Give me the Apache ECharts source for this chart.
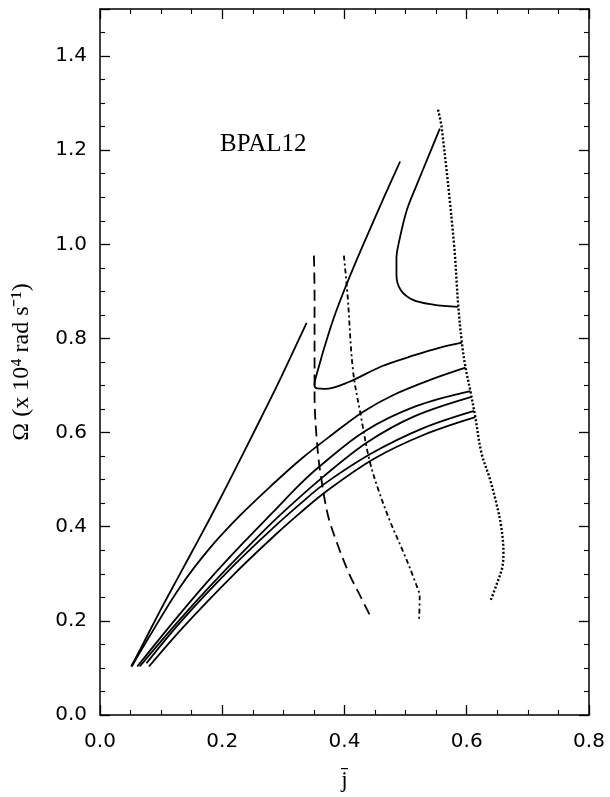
<!DOCTYPE html>
<html>
<head>
<meta charset="utf-8">
<script src="https://cdn.jsdelivr.net/npm/echarts@6/dist/echarts.min.js"></script>
<style>
  html, body { margin: 0; padding: 0; background: #fff; }
  #chart { width: 610px; height: 797px; }
</style>
</head>
<body>
<div id="chart"></div>
<script>
// x: j-bar, y: Omega (x 10^4 rad/s)
const xTicks = [0, 0.2, 0.4, 0.6, 0.8]
const yTicks = [0, 0.2, 0.4, 0.6, 0.8, 1.0, 1.2, 1.4]

// steep solid line at the left
const lineL = [[0.051,0.103],[0.066,0.140],[0.097,0.218],[0.128,0.293],[0.161,0.372],[0.190,0.443],[0.218,0.514],[0.263,0.630],[0.296,0.717],[0.338,0.833]]
// family of solid curves ending on the dotted line
const lineC = [[0.052,0.103],[0.080,0.165],[0.130,0.270],[0.180,0.355],[0.230,0.425],[0.280,0.487],[0.330,0.545],[0.380,0.596],[0.430,0.644],[0.480,0.680],[0.540,0.712],[0.598,0.738]]
const lineD = [[0.061,0.103],[0.122,0.201],[0.177,0.285],[0.233,0.364],[0.283,0.431],[0.327,0.490],[0.360,0.529],[0.432,0.602],[0.515,0.655],[0.606,0.688]]
const lineE = [[0.065,0.103],[0.124,0.193],[0.179,0.272],[0.235,0.348],[0.294,0.424],[0.366,0.507],[0.438,0.580],[0.515,0.635],[0.608,0.676]]
const lineF = [[0.076,0.110],[0.132,0.198],[0.216,0.314],[0.282,0.396],[0.327,0.448],[0.366,0.490],[0.443,0.555],[0.526,0.608],[0.612,0.646]]
const lineG = [[0.080,0.103],[0.137,0.188],[0.220,0.300],[0.287,0.383],[0.327,0.429],[0.371,0.476],[0.449,0.545],[0.531,0.596],[0.614,0.633]]
// curve that turns back at the dashed line
const lineB = [[0.491,1.176],[0.466,1.104],[0.443,1.036],[0.421,0.970],[0.400,0.904],[0.382,0.842],[0.368,0.785],[0.358,0.740],[0.352,0.712],[0.351,0.700],[0.355,0.694],[0.368,0.693],[0.406,0.707],[0.461,0.741],[0.516,0.765],[0.555,0.780],[0.592,0.791]]
// upper hook
const lineA = [[0.556,1.246],[0.538,1.189],[0.519,1.129],[0.502,1.073],[0.490,1.010],[0.485,0.970],[0.485,0.935],[0.492,0.903],[0.512,0.882],[0.545,0.872],[0.586,0.867]]
// boundaries
const dashed = [[0.350,0.976],[0.351,0.892],[0.351,0.682],[0.356,0.564],[0.363,0.494],[0.373,0.424],[0.387,0.368],[0.408,0.299],[0.427,0.250],[0.444,0.205]]
const dashDot = [[0.399,0.976],[0.405,0.892],[0.414,0.731],[0.427,0.634],[0.440,0.546],[0.454,0.484],[0.475,0.410],[0.496,0.347],[0.515,0.285],[0.523,0.250],[0.522,0.201]]
const dotted = [[0.553,1.286],[0.559,1.248],[0.579,1.003],[0.586,0.871],[0.592,0.791],[0.598,0.738],[0.606,0.688],[0.614,0.633],[0.624,0.557],[0.638,0.501],[0.648,0.452],[0.656,0.403],[0.660,0.347],[0.658,0.313],[0.649,0.278],[0.639,0.243]]

const chart = echarts.init(document.getElementById('chart'))

const tickFont = 'DejaVu Sans'
const serif = 'Liberation Serif'

function xAx(pos, show) {
  return {
    type: 'value', min: xTicks[0], max: xTicks[xTicks.length - 1], interval: 0.2,
    position: pos,
    axisLine: { onZero: false, lineStyle: { color: '#000', width: 1.5 } },
    axisTick: { inside: true, length: 10, lineStyle: { color: '#000', width: 1.3 } },
    minorTick: { show: true, splitNumber: 4, length: 5, lineStyle: { color: '#000', width: 1.1 } },
    splitLine: { show: false },
    axisLabel: { show: show, margin: 17, color: '#000', fontFamily: tickFont, fontSize: 20, formatter: v => v.toFixed(1) },
    name: show ? 'j\u0304' : '', nameLocation: 'middle', nameGap: 54,
    nameTextStyle: { color: '#000', fontFamily: serif, fontSize: 23 }
  }
}
function yAx(pos, show) {
  return {
    type: 'value', min: yTicks[0], max: 1.5, interval: 0.2,
    position: pos,
    axisLine: { onZero: false, lineStyle: { color: '#000', width: 1.5 } },
    axisTick: { inside: true, length: 10, lineStyle: { color: '#000', width: 1.3 } },
    minorTick: { show: true, splitNumber: 4, length: 5, lineStyle: { color: '#000', width: 1.1 } },
    splitLine: { show: false },
    axisLabel: { show: show, margin: 13, color: '#000', fontFamily: tickFont, fontSize: 20, showMaxLabel: false, formatter: v => v.toFixed(1) },
    name: show ? '\u03A9 (x 10\u2074 rad s\u207B\u00B9)' : '', nameLocation: 'middle', nameGap: 66,
    nameTextStyle: { color: '#000', fontFamily: serif, fontSize: 24 }
  }
}

function ln(data, type, width) {
  return {
    type: 'line', data: data, xAxisIndex: 0, yAxisIndex: 0,
    symbol: 'none', silent: true, smooth: 0.35,
    lineStyle: { color: '#000', width: width || 1.8, type: type || 'solid', cap: 'butt' }
  }
}

const opt = {
  backgroundColor: '#fff',
  animation: false,
  grid: { left: 100, right: 21, top: 9, bottom: 71 },
  xAxis: [xAx('bottom', true), xAx('top', false)],
  yAxis: [yAx('left', true), yAx('right', false)],
  graphic: [{
    type: 'text', left: 220, top: 132,
    style: { text: 'BPAL12', font: '25px "Liberation Serif"', fill: '#000' }
  }],
  series: [
    ln(lineL), ln(lineC), ln(lineD), ln(lineE), ln(lineF), ln(lineG),
    ln(lineB), ln(lineA),
    ln(dashed, [11, 6]),
    ln(dashDot, [5, 3, 2, 3]),
    ln(dotted, [2, 2], 2.4)
  ]
}
chart.setOption(opt, true)
</script>
</body>
</html>
